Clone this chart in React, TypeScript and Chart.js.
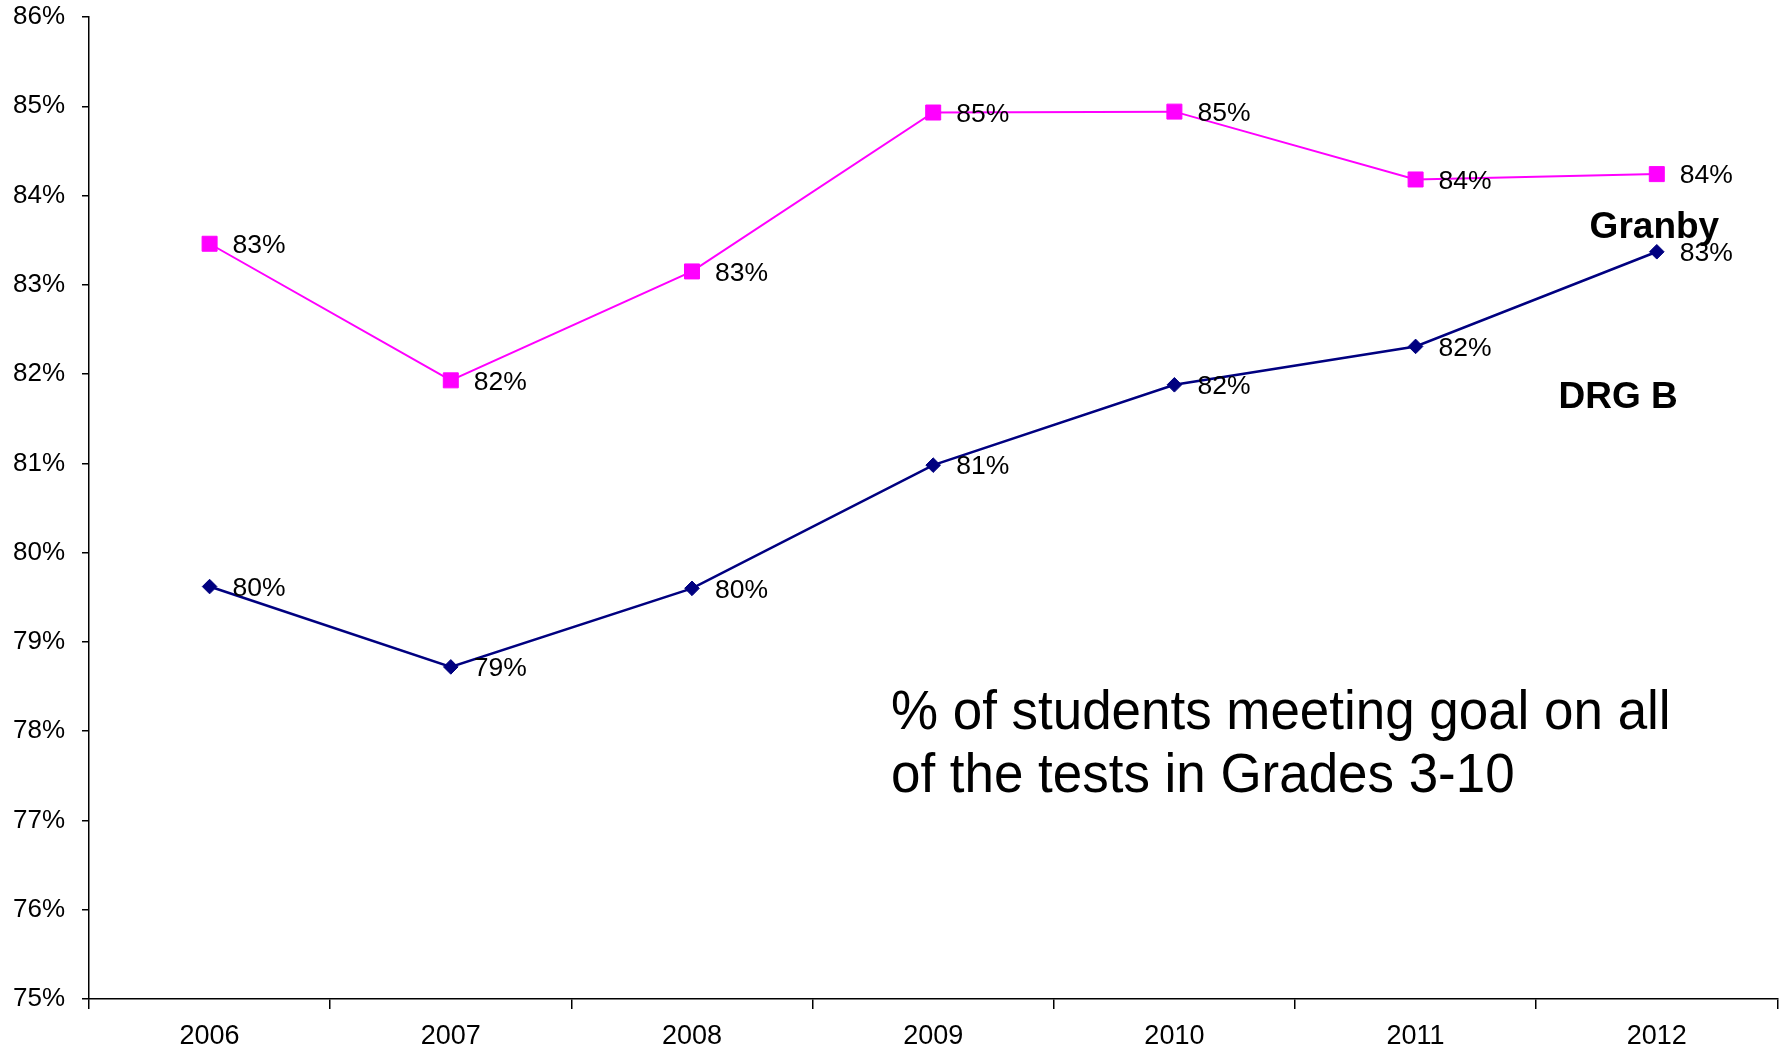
import React, { useEffect, useRef } from "react";
import { Chart, registerables } from "chart.js";

Chart.register(...registerables);

// ---- data ----
const years = ["2006", "2007", "2008", "2009", "2010", "2011", "2012"];
const granbyValues = [83.46, 81.93, 83.15, 84.93, 84.94, 84.18, 84.24];
const drgBValues = [79.62, 78.72, 79.6, 80.98, 81.88, 82.31, 83.37];
const granbyLabels = ["83%", "82%", "83%", "85%", "85%", "84%", "84%"];
const drgBLabels = ["80%", "79%", "80%", "81%", "82%", "82%", "83%"];
const yMin = 75;
const yMax = 86;
const seriesNames = ["Granby", "DRG B"];
const noteLines = ["% of students meeting goal on all", "of the tests in Grades 3-10"];

const FONT = "'Liberation Sans', Arial, sans-serif";
const MAGENTA = "#FF00FF";
const NAVY = "#000080";

const labelPlugin = {
  id: "valueLabels",
  afterDatasetsDraw(chart: any) {
    const ctx = chart.ctx;
    const labelSets = [granbyLabels, drgBLabels];
    ctx.save();
    ctx.font = `26.5px ${FONT}`;
    ctx.fillStyle = "#000";
    ctx.textAlign = "left";
    ctx.textBaseline = "middle";
    labelSets.forEach((labels, di) => {
      const meta = chart.getDatasetMeta(di);
      meta.data.forEach((pt: any, i: number) => {
        ctx.fillText(labels[i], pt.x + 23, pt.y + 2);
      });
    });

    const xs = chart.scales.x;
    const ys = chart.scales.y;
    // series name annotations
    ctx.font = `bold 37px ${FONT}`;
    ctx.textAlign = "center";
    ctx.textBaseline = "alphabetic";
    ctx.fillText(seriesNames[0], xs.getPixelForValue(5.99), ys.getPixelForValue(83.525));
    ctx.fillText(seriesNames[1], xs.getPixelForValue(5.84), ys.getPixelForValue(81.62));

    // note text
    ctx.font = `56px ${FONT}`;
    ctx.textAlign = "left";
    const nx = xs.getPixelForValue(2.825);
    const baseVals = [78.02, 77.32];
    noteLines.forEach((line, i) => {
      ctx.save();
      ctx.translate(nx, ys.getPixelForValue(baseVals[i]));
      ctx.scale(0.945, 1);
      ctx.fillText(line, 0, 0);
      ctx.restore();
    });
    ctx.restore();
  },
};

export default function App() {
  const canvasRef = useRef<HTMLCanvasElement | null>(null);

  useEffect(() => {
    document.body.style.margin = "0";
    const canvas = canvasRef.current;
    if (!canvas) return;
    const chart = new Chart(canvas, {
      type: "line",
      data: {
        labels: years,
        datasets: [
          {
            label: seriesNames[0],
            data: granbyValues,
            borderColor: MAGENTA,
            backgroundColor: MAGENTA,
            borderWidth: 2,
            pointStyle: "rect",
            pointRadius: 10.6,
            pointBorderWidth: 1,
            pointBackgroundColor: MAGENTA,
            pointBorderColor: MAGENTA,
            tension: 0,
            fill: false,
          },
          {
            label: seriesNames[1],
            data: drgBValues,
            borderColor: NAVY,
            backgroundColor: NAVY,
            borderWidth: 2.5,
            pointStyle: "rectRot",
            pointRadius: 7.3,
            pointBorderWidth: 1,
            pointBackgroundColor: NAVY,
            pointBorderColor: NAVY,
            tension: 0,
            fill: false,
          },
        ],
      },
      options: {
        responsive: false,
        animation: false,
        layout: { padding: { top: 17, right: 8, left: 0, bottom: 0 } },
        plugins: {
          legend: { display: false },
          tooltip: { enabled: false },
          title: { display: false },
        },
        scales: {
          x: {
            type: "category",
            offset: true,
            grid: {
              display: true,
              drawOnChartArea: false,
              offset: true,
              tickLength: 10,
              color: "#000",
              lineWidth: 1.5,
            },
            border: { display: true, color: "#000", width: 1.5 },
            ticks: {
              color: "#000",
              font: { size: 27, family: FONT },
              padding: 11,
              maxRotation: 0,
              autoSkip: false,
            },
            afterFit: (s: any) => {
              s.height = 49;
              s.paddingLeft = 0;
              s.paddingRight = 0;
            },
          },
          y: {
            min: yMin,
            max: yMax,
            grid: {
              display: true,
              drawOnChartArea: false,
              tickLength: 7,
              color: "#000",
              lineWidth: 1.5,
            },
            border: { display: true, color: "#000", width: 1.5 },
            ticks: {
              stepSize: 1,
              color: "#000",
              font: { size: 26, family: FONT },
              padding: 17,
              callback: (v: any) => `${v}%`,
            },
            afterFit: (s: any) => {
              s.width = 89;
              s.paddingTop = 0;
              s.paddingBottom = 0;
            },
          },
        },
      },
      plugins: [labelPlugin],
    } as any);
    return () => chart.destroy();
  }, []);

  return (
    <div style={{ width: 1789, height: 1048, background: "#fff" }}>
      <canvas ref={canvasRef} width={1789} height={1048} style={{ display: "block" }} />
    </div>
  );
}
